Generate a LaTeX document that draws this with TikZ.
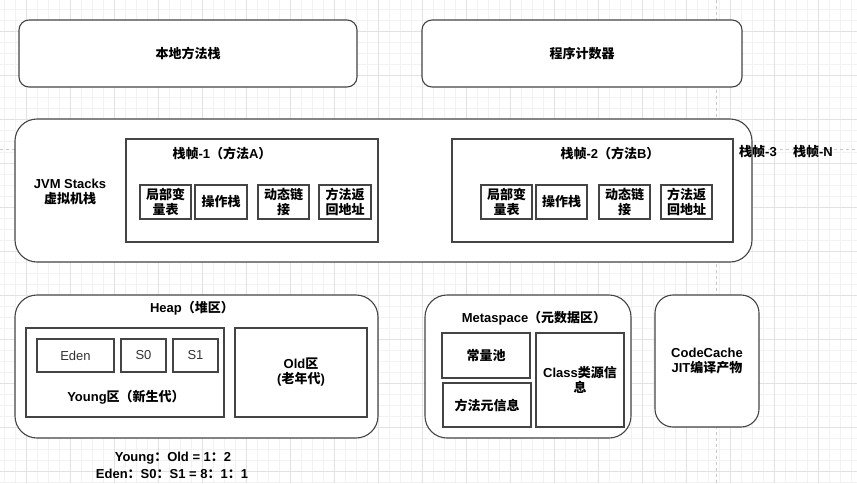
\documentclass[tikz,border=0pt]{standalone}
\usepackage{fontspec}
\setmainfont{Liberation Sans}
\newfontfamily\cjk{Noto Sans CJK SC}
\newcommand{\zh}[1]{{\cjk #1}}
\usetikzlibrary{positioning}
\definecolor{edge}{HTML}{444444}
\definecolor{gridminor}{HTML}{F2F2F2}
\definecolor{gridmajor}{HTML}{E2E2E2}
\definecolor{pagebreak}{HTML}{C8C8C8}

\begin{document}
\begin{tikzpicture}[
  x=1pt,y=-1pt,
  font=\fontsize{13}{15}\selectfont\bfseries,
  area/.style={draw=edge,line width=1.1pt,fill=white,rounded corners=#1,
    inner sep=0pt,align=center},
  area/.default=10pt,
  cell/.style={draw=edge,line width=1.1pt,fill=white,inner sep=0pt,align=center},
  soft/.style={cell,font=\fontsize{13}{15}\selectfont\mdseries,text=black!80},
  lbl/.style={inner sep=0pt,align=center},
]
\useasboundingbox (0,0) rectangle (857,483);
\fill[white] (0,0) rectangle (857,483);
\foreach \gx in {4,15,...,857} \draw[gridminor,line width=0.8pt] (\gx,0) -- (\gx,483);
\foreach \gy in {9.3,20.3,...,483} \draw[gridminor,line width=0.8pt] (0,\gy) -- (857,\gy);
\foreach \gx in {26,70,...,857} \draw[gridmajor,line width=0.8pt] (\gx,0) -- (\gx,483);
\foreach \gy in {31.3,75.3,...,483} \draw[gridmajor,line width=0.8pt] (0,\gy) -- (857,\gy);
\draw[pagebreak,dashed,line width=0.8pt] (716,0) -- (716,483);
\draw[pagebreak,dashed,line width=0.8pt] (0,149) -- (857,149);

\node[area,minimum width=338pt,minimum height=67pt] (native) at (188,53.5) {\zh{本地方法栈}};
\node[area,minimum width=320pt,minimum height=67pt] (pc) at (582,53.5) {\zh{程序计数器}};

\node[area=22pt,minimum width=737pt,minimum height=143pt] (jvm) at (383.5,190.5) {};
\node[lbl] (jvmlbl) at (70,191.5) {JVM Stacks\\\zh{虚拟机栈}};
\node[cell,minimum width=252pt,minimum height=103pt] (frameA) at (252,190.5) {};
\node[lbl] (frameAlbl) at (222,153) {\zh{栈帧}-1\zh{（方法}A\zh{）}};
\node[cell,minimum width=51pt,minimum height=34pt] (lvA) at (165.5,202) {\zh{局部变}\\\zh{量表}};
\node[cell,minimum width=52pt,minimum height=34pt] (opA) at (221,202) {\zh{操作栈}};
\node[cell,minimum width=51pt,minimum height=34pt] (dlA) at (283.5,202) {\zh{动态链}\\\zh{接}};
\node[cell,minimum width=52pt,minimum height=34pt] (raA) at (345,202) {\zh{方法返}\\\zh{回地址}};

\node[cell,minimum width=281pt,minimum height=103pt] (frameB) at (592.5,190.5) {};
\node[lbl] (frameBlbl) at (610,153) {\zh{栈帧}-2\zh{（方法}B\zh{）}};
\node[cell,minimum width=51pt,minimum height=34pt] (lvB) at (506.5,202) {\zh{局部变}\\\zh{量表}};
\node[cell,minimum width=51pt,minimum height=34pt] (opB) at (561.5,202) {\zh{操作栈}};
\node[cell,minimum width=51pt,minimum height=34pt] (dlB) at (624.5,202) {\zh{动态链}\\\zh{接}};
\node[cell,minimum width=51pt,minimum height=34pt] (raB) at (686.5,202) {\zh{方法返}\\\zh{回地址}};

\node[lbl] (frameC) at (758,152) {\zh{栈帧}-3};
\node[lbl] (frameN) at (813,152) {\zh{栈帧}-N};

\node[area=22pt,minimum width=363pt,minimum height=143pt] (heap) at (196.5,366.5) {};
\node[lbl] (heaplbl) at (192,308) {Heap\zh{（堆区）}};
\node[cell,minimum width=198pt,minimum height=89pt] (young) at (125,372.5) {};
\node[soft,minimum width=77pt,minimum height=33pt] (eden) at (75.5,355.5) {Eden};
\node[soft,minimum width=45pt,minimum height=33pt] (szero) at (143.5,355.5) {S0};
\node[soft,minimum width=45pt,minimum height=33pt] (sone) at (195.5,355.5) {S1};
\node[lbl] (younglbl) at (126,397) {Young\zh{区（新生代）}};
\node[cell,minimum width=132pt,minimum height=89pt] (old) at (301,372.5) {Old\zh{区}\\(\zh{老年代})};
\node[lbl] (ratioA) at (173,458) {Young\zh{：}Old = 1\zh{：}2};
\node[lbl] (ratioB) at (172,474) {Eden\zh{：}S0\zh{：}S1 = 8\zh{：}1\zh{：}1};

\node[area=22pt,minimum width=206pt,minimum height=143pt] (meta) at (528,366.5) {};
\node[lbl] (metalbl) at (534,318) {Metaspace\zh{（元数据区）}};
\node[cell,minimum width=88pt,minimum height=45pt] (pool) at (486,355.5) {\zh{常量池}};
\node[cell,minimum width=88pt,minimum height=44pt] (minfo) at (487,405) {\zh{方法元信息}};
\node[cell,minimum width=88pt,minimum height=94pt] (cls) at (580,380) {Class\zh{类源信}\\\zh{息}};

\node[area=18pt,minimum width=104pt,minimum height=132pt] (code) at (707,361) {CodeCache\\JIT\zh{编译产物}};
\end{tikzpicture}
\end{document}
